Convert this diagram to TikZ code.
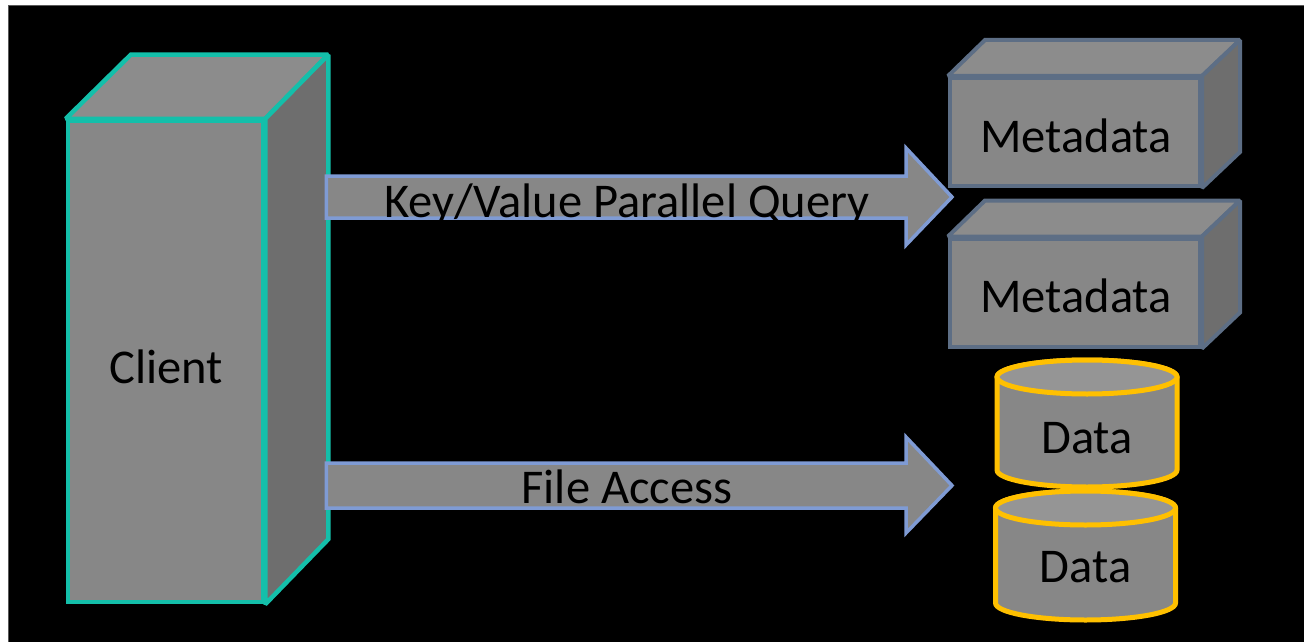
\documentclass[tikz,border=0pt]{standalone}
\usepackage{fontspec}
\setmainfont{Carlito}
\usetikzlibrary{calc}
\definecolor{tealline}{HTML}{14BFAA}
\definecolor{slateline}{HTML}{5D6E85}
\definecolor{goldline}{HTML}{FFC000}
\definecolor{arrowline}{HTML}{7F9BD4}
\definecolor{facefront}{HTML}{878787}
\definecolor{facetop}{HTML}{8C8C8C}
\definecolor{faceside}{HTML}{6E6E6E}
\definecolor{disktop}{HTML}{959595}
\tikzset{
  label/.style={font=\fontsize{48.5}{52}\selectfont, text=black, inner sep=0pt},
  clientface/.style={draw=tealline, line width=4.5pt, line join=miter, miter limit=2},
  metaface/.style={draw=slateline, line width=4pt, line join=miter, miter limit=2},
  diskline/.style={draw=goldline, line width=5pt},
  blockarrow/.style={draw=arrowline, fill=facefront, line width=3.5pt, line join=miter},
}
\begin{document}
\begin{tikzpicture}[x=1pt, y=-1pt]
  % page and dark panel
  \fill[white] (0,0) rectangle (1304,642);
  \useasboundingbox (0,0) rectangle (1304,642);
  \filldraw[fill=black, draw=black!65, line width=1pt] (8,6) rectangle (1305,643);

  % client cube
  \node[clientface, fill=facefront, minimum width=195pt, minimum height=481pt, inner sep=0pt]
    (client) at (165.5,361.5) {};
  \filldraw[clientface, fill=facetop]
    (client.north west) -- ++(65,-64) -- ($(client.north east)+(63,-64)$) -- (client.north east) -- cycle;
  \filldraw[clientface, fill=faceside]
    (client.north east) -- ++(63,-64) -- ($(client.south east)+(63,-65)$) -- (client.south east) -- cycle;
  \node[label, anchor=base] (clienttext) at (166,383) {Client};

  % metadata boxes
  \foreach \name/\cy/\base in {metaA/132/152, metaB/292.5/312} {
    \node[metaface, fill=facefront, minimum width=250pt, minimum height=108pt, inner sep=0pt]
      (\name) at (1075,\cy) {};
    \filldraw[metaface, fill=facetop]
      (\name.north west) -- ++(37,-36) -- ($(\name.north east)+(38,-36)$) -- (\name.north east) -- cycle;
    \filldraw[metaface, fill=faceside]
      (\name.north east) -- ++(38,-36) -- ($(\name.south east)+(38,-36)$) -- (\name.south east) -- cycle;
    \node[label, anchor=base] (\name text) at (1076,\base) {Metadata};
  }

  % data cylinders
  \foreach \name/\cx/\top/\bot/\base in {dataA/1087/377/470/453, dataB/1085.5/508/603/582} {
    \coordinate (\name top) at (\cx,\top);
    \coordinate (\name bot) at (\cx,\bot);
    \filldraw[diskline, fill=facefront]
      ($(\name top)+(-90,0)$) -- ($(\name bot)+(-90,0)$) arc[start angle=180, end angle=0, x radius=90, y radius=17]
      -- ($(\name top)+(90,0)$) arc[start angle=0, end angle=-180, x radius=90, y radius=17] -- cycle;
    \filldraw[diskline, fill=disktop] (\name top) ellipse[x radius=90, y radius=17];
    \node[label, anchor=base] (\name text) at (\cx,\base) {Data};
  }

  % block arrows from the client
  \coordinate (qstart) at (client.east |- 0,197);
  \coordinate (qtip) at (952,197);
  \filldraw[blockarrow]
    ($(qstart)+(61,-21)$) -- ($(qtip)+(-46,-21)$) -- ($(qtip)+(-46,-49)$) -- (qtip)
    -- ($(qtip)+(-46,48)$) -- ($(qtip)+(-46,21)$) -- ($(qstart)+(61,21)$) -- cycle;
  \node[label, anchor=base] (qtext) at (627,217) {Key/Value Parallel Query};

  \coordinate (fstart) at (client.east |- 0,485.5);
  \coordinate (ftip) at (952,485.5);
  \filldraw[blockarrow]
    ($(fstart)+(61,-22.5)$) -- ($(ftip)+(-46,-22.5)$) -- ($(ftip)+(-46,-48.5)$) -- (ftip)
    -- ($(ftip)+(-46,47.5)$) -- ($(ftip)+(-46,22.5)$) -- ($(fstart)+(61,22.5)$) -- cycle;
  \node[label, anchor=base] (ftext) at (627,503) {File Access};
\end{tikzpicture}
\end{document}
